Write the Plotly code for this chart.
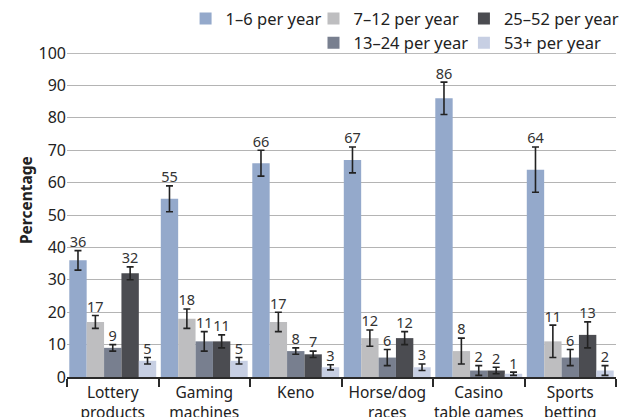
import plotly.graph_objects as go

categories = ["Lottery<br>products", "Gaming<br>machines", "Keno",
              "Horse/dog<br>races", "Casino<br>table games", "Sports<br>betting"]
series_names = ["1\u20136 per year", "7\u201312 per year", "13\u201324 per year",
                "25\u201352 per year", "53+ per year"]
v_1_6 = [36, 55, 66, 67, 86, 64]
e_1_6 = [3, 4, 4, 4, 5, 7]
v_7_12 = [17, 18, 17, 12, 8, 11]
e_7_12 = [2, 3, 3, 2.5, 4, 5]
v_13_24 = [9, 11, 8, 6, 2, 6]
e_13_24 = [1, 3, 1, 2.5, 1.5, 2.5]
v_25_52 = [32, 11, 7, 12, 2, 13]
e_25_52 = [2, 2, 1, 2, 1, 4]
v_53 = [5, 5, 3, 3, 1, 2]
e_53 = [1, 1, 0.8, 1, 0.5, 1.5]

values = [v_1_6, v_7_12, v_13_24, v_25_52, v_53]
errors = [e_1_6, e_7_12, e_13_24, e_25_52, e_53]
colors = ["#94A9CB", "#BEBEC0", "#787F8F", "#4B4C51", "#C7CFE3"]
legends = ["legend", "legend2", "legend2", "legend3", "legend3"]

FONT = "Noto Sans"
TXT = "#222222"

fig = go.Figure()
for i, (name, v, e, c, lg) in enumerate(zip(series_names, values, errors, colors, legends)):
    fig.add_trace(go.Bar(
        x=categories, y=v, name=name, marker=dict(color=c, line=dict(width=0)),
        offsetgroup=str(i), legend=lg,
        error_y=dict(type="data", array=e, visible=True, color="#222222",
                     thickness=1.6, width=3.5),
    ))
for i, (v, e) in enumerate(zip(values, errors)):
    fig.add_trace(go.Scatter(
        x=categories, y=[a + b for a, b in zip(v, e)], mode="text",
        text=[str(a) for a in v], textposition="top center",
        textfont=dict(family=FONT, size=14.5, color="#333333"),
        offsetgroup=str(i), showlegend=False, hoverinfo="skip",
    ))

LEG_FONT = dict(size=16.5, color=TXT)
fig.update_layout(
    width=637, height=417,
    margin=dict(l=67, r=21, t=53, b=40, autoexpand=False),
    paper_bgcolor="white", plot_bgcolor="white",
    barmode="group", bargap=0.05, bargroupgap=0,
    scattermode="group", scattergap=0.05,
    font=dict(family=FONT, color=TXT, size=15),
    xaxis=dict(
        showline=True, linecolor="#2a2a2a", linewidth=2,
        ticks="outside", tickson="boundaries", ticklen=8, tickcolor="#2a2a2a", tickwidth=2,
        tickfont=dict(size=15.5, color=TXT), showgrid=False, tickangle=0, automargin=False,
    ),
    yaxis=dict(
        range=[0, 100], dtick=10, showgrid=True, gridcolor="#B4B4B4", gridwidth=1.2,
        zeroline=False, tickfont=dict(size=16, color=TXT), automargin=False,
        ticks="",
    ),
    legend=dict(x=0.216, y=1.16, xanchor="left", yanchor="top", orientation="v",
                font=LEG_FONT, bgcolor="rgba(0,0,0,0)"),
    legend2=dict(x=0.449, y=1.16, xanchor="left", yanchor="top", orientation="v",
                 font=LEG_FONT, bgcolor="rgba(0,0,0,0)"),
    legend3=dict(x=0.723, y=1.16, xanchor="left", yanchor="top", orientation="v",
                 font=LEG_FONT, bgcolor="rgba(0,0,0,0)"),
    showlegend=True,
)
fig.add_annotation(text="<b>Percentage</b>", textangle=-90, xref="paper", yref="paper",
                   x=-0.0747, y=0.546, xanchor="center", yanchor="middle", showarrow=False,
                   font=dict(size=15.5, color=TXT))
fig.add_shape(type="line", xref="paper", yref="y", x0=0, x1=1, y0=100, y1=100,
              line=dict(color="#777777", width=1.2))

fig.write_html("out.html", config={"displayModeBar": False},
               post_script="document.body.style.margin='0';")
